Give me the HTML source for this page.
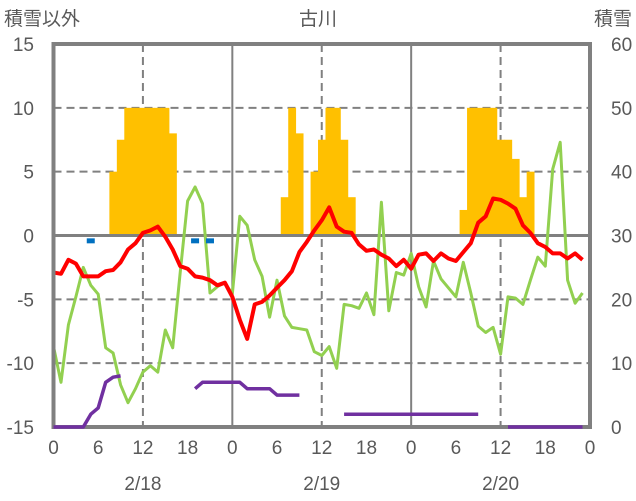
<!DOCTYPE html>
<html><head><meta charset="utf-8"><style>
html,body{margin:0;padding:0;background:#fff;}
svg{display:block;font-family:"Liberation Sans","Noto Sans CJK JP",sans-serif;}
</style></head><body>
<svg id="chart" width="636" height="501" viewBox="0 0 636 501"></svg>
<script>
const hours=[0,6,12,18,0,6,12,18,0,6,12,18,0];
const dateLabels=["2/18","2/19","2/20"];
const leftTicks=[15,10,5,0,-5,-10,-15];
const rightTicks=[60,50,40,30,20,10,0];
const temp=[-2.9,-3.0,-1.9,-2.2,-3.2,-3.2,-3.2,-2.8,-2.7,-2.1,-1.1,-0.6,0.2,0.4,0.7,-0.1,-1.1,-2.4,-2.6,-3.2,-3.3,-3.5,-3.9,-3.7,-4.8,-6.6,-8.1,-5.4,-5.2,-4.7,-4.1,-3.5,-2.8,-1.3,-0.5,0.4,1.2,2.2,0.7,0.3,0.2,-0.7,-1.2,-1.1,-1.5,-1.8,-2.4,-1.9,-2.6,-1.5,-1.4,-2.0,-1.4,-1.8,-2.0,-1.3,-0.6,1.0,1.5,2.9,2.8,2.5,2.1,0.8,0.2,-0.6,-0.9,-1.4,-1.4,-1.8,-1.4,-1.9];
const green=[-8.7,-11.5,-7.0,-4.8,-2.5,-3.9,-4.6,-8.8,-9.2,-11.7,-13.1,-12.0,-10.7,-10.2,-10.7,-7.4,-8.8,-2.9,2.7,3.8,2.5,-4.5,-4.0,-3.7,-4.6,1.5,0.8,-1.9,-3.2,-6.4,-3.5,-6.3,-7.2,-7.3,-7.4,-9.1,-9.4,-8.7,-10.4,-5.4,-5.5,-5.7,-4.5,-6.2,2.6,-5.9,-2.9,-3.1,-1.4,-4.0,-5.6,-2.0,-3.4,-4.1,-4.8,-2.1,-4.5,-7.1,-7.6,-7.2,-9.3,-4.8,-4.9,-5.4,-3.5,-1.7,-2.4,5.2,7.3,-3.5,-5.3,-4.5];
const purple=[-15,-15,-15,-15,-15,-14,-13.5,-11.5,-11.1,-11.0,null,null,null,null,null,null,null,null,null,-12.0,-11.5,-11.5,-11.5,-11.5,-11.5,-11.5,-12,-12,-12,-12,-12.5,-12.5,-12.5,-12.5,null,null,null,null,null,-14,-14,-14,-14,-14,-14,-14,-14,-14,-14,-14,-14,-14,-14,-14,-14,-14,-14,-14,null,null,null,-15,-15,-15,-15,-15,-15,-15,-15,-15,-15,-15];
const snow=[0,0,0,0,0,0,0,0,40,45,50,50,50,50,50,50,46,0,0,0,0,0,0,0,0,0,0,0,0,0,0,36,50,46,0,40,45,50,50,45,36,0,0,0,0,0,0,0,0,0,0,0,0,0,0,34,50,50,50,50,45,45,42,36,40,0,0,0,0,0,0,0];
const blueHours=[5,19,21];
const blueVals=[-0.3,-0.3,-0.3];

const X0=53.5,X1=590,YT=44,YB=427;
const xs=h=>X0+(X1-X0)*h/72;
const yl=v=>YB-(v+15)/30*(YB-YT);
const yr=v=>YB-v/60*(YB-YT);
const svg=document.getElementById('chart');
const NS='http://www.w3.org/2000/svg';
function mk(tag,attrs,parent){const e=document.createElementNS(NS,tag);for(const k in attrs)e.setAttribute(k,attrs[k]);(parent||svg).appendChild(e);return e;}

[10,5,-5,-10].forEach(v=>{const e=mk('line',{x1:X0,x2:X1,y1:yl(v),y2:yl(v),stroke:'#808080','stroke-width':2,'stroke-dasharray':'8,5'});

});
[12,36,60].forEach(h=>{const e=mk('line',{x1:xs(h),x2:xs(h),y1:YT,y2:YB,stroke:'#808080','stroke-width':2,'stroke-dasharray':'8,5'});

});
[24,48].forEach(h=>{const e=mk('line',{x1:xs(h),x2:xs(h),y1:YT,y2:YB,stroke:'#808080','stroke-width':2});

});

const bw=(X1-X0)/72;
snow.forEach((v,h)=>{if(!v)return;const y=yr(v);const b=mk('rect',{x:xs(h)-bw/2,y:y,width:bw+0.4,height:yr(30)-y,fill:'#FFC000'});

});

const z=mk('line',{x1:X0,x2:X1,y1:yl(0),y2:yl(0),stroke:'#808080','stroke-width':3});



function line(arr,color,w,name){let d='',pen=false;arr.forEach((v,h)=>{if(v===null){pen=false;return;}d+=(pen?'L':'M')+xs(h).toFixed(1)+','+yl(v).toFixed(1);pen=true;});
const p=mk('path',{d:d,fill:'none',stroke:color,'stroke-width':w,'stroke-linejoin':'round'});

}
line(green,'#92D050',3,'green-series');
line(temp,'#FF0000',4,'temperature-series');

blueHours.forEach((h,i)=>{const r=mk('rect',{x:xs(h)-4,y:yl(blueVals[i])-1,width:8,height:5,fill:'#0070C0'});

});

const f=mk('rect',{x:X0,y:YT,width:X1-X0,height:YB-YT,fill:'none',stroke:'#808080','stroke-width':4});



line(purple,'#7030A0',3.5,'purple-series');

function txt(s,x,y,anchor,name,size){const t=mk('text',{x:x,y:y,'text-anchor':anchor,'font-size':size||19,fill:'#595959'});t.textContent=s;

return t;}
leftTicks.forEach(v=>txt(String(v),34,yl(v)+7,'end','left-tick-label'));
rightTicks.forEach(v=>txt(String(v),611,yr(v)+7,'start','right-tick-label'));
hours.forEach((v,i)=>txt(String(v),xs(i*6),454,'middle','x-tick-label'));
dateLabels.forEach((s,i)=>txt(s,xs(12+24*i),490,'middle','date-label'));
txt('積雪以外',4,25,'start','left-axis-title',19);
txt('積雪',632,25,'end','right-axis-title',19);
txt('古川',318,25,'middle','chart-title',19);
</script>
</body></html>
